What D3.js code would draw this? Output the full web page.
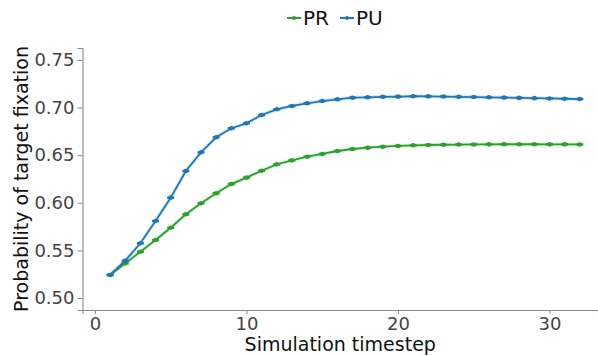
<!DOCTYPE html>
<html>
<head>
<meta charset="utf-8">
<script src="https://cdn.jsdelivr.net/npm/d3@7"></script>
<style>
  html, body { margin: 0; padding: 0; background: #fff; }
  svg { display: block; font-family: "DejaVu Sans", sans-serif; }
</style>
</head>
<body>
<svg id="chart" width="598" height="356"></svg>
<script>
// ---- data ----
const timesteps = d3.range(1, 33);
const seriesNames = ["PR", "PU"];
const prValues = [0.5242, 0.5364, 0.5486, 0.5609, 0.5738, 0.5879, 0.5995, 0.6100,
                  0.6197, 0.6264, 0.6337, 0.6404, 0.6446, 0.6484, 0.6513, 0.6544,
                  0.6565, 0.6579, 0.6589, 0.6597, 0.6604, 0.6607, 0.6610, 0.6612,
                  0.6613, 0.6614, 0.6615, 0.6615, 0.6615, 0.6614, 0.6614, 0.6613];
const puValues = [0.5242, 0.5392, 0.5575, 0.5809, 0.6054, 0.6334, 0.6530, 0.6688,
                  0.6783, 0.6835, 0.6922, 0.6982, 0.7017, 0.7045, 0.7069, 0.7087,
                  0.7104, 0.7108, 0.7113, 0.7115, 0.7119, 0.7118, 0.7116, 0.7113,
                  0.7111, 0.7108, 0.7105, 0.7102, 0.7099, 0.7096, 0.7093, 0.7090];
const xTicks = [0, 10, 20, 30];
const yTicks = [0.50, 0.55, 0.60, 0.65, 0.70, 0.75];
const colors = {PR: "#2ca02c", PU: "#1f77b4"};

const series = [
  {name: "PR", values: prValues},
  {name: "PU", values: puValues}
];

// ---- layout ----
const svg = d3.select("#chart");
const mLeft = 82.5, mRight = 598, mTop = 48, mBottom = 310;

const x = d3.scaleLinear().domain([-0.82, 33.2]).range([mLeft, mRight]);
const y = d3.scaleLinear().domain([0.4874, 0.7626]).range([mBottom, mTop]);

const axisColor = "#8a8a8a";
const tickTextColor = "#444";

// x axis
const gx = svg.append("g").attr("transform", `translate(0,${mBottom})`)
  .call(d3.axisBottom(x).tickValues(xTicks).tickFormat(d3.format("d")).tickSizeOuter(0).tickSize(4).tickPadding(3));
// y axis
const gy = svg.append("g").attr("transform", `translate(${mLeft},0)`)
  .call(d3.axisLeft(y).tickValues(yTicks).tickFormat(d3.format(".2f")).tickSizeOuter(0).tickSize(5).tickPadding(3));

[gx, gy].forEach(g => {
  g.select(".domain").attr("stroke", axisColor).attr("stroke-width", 1.1);
  g.selectAll(".tick line").attr("stroke", axisColor).attr("stroke-width", 1);
  g.selectAll(".tick text").attr("fill", tickTextColor).style("font-size", "18px")
    .style("font-family", "'DejaVu Sans', sans-serif");
});

// axis labels
svg.append("text")
  .attr("x", (mLeft + mRight) / 2).attr("y", 351)
  .attr("text-anchor", "middle")
  .style("font-size", "19px").attr("fill", "#111")
  .text("Simulation timestep");

svg.append("text")
  .attr("transform", `translate(28,${(mTop + mBottom) / 2}) rotate(-90)`)
  .attr("text-anchor", "middle")
  .style("font-size", "19px").attr("fill", "#111")
  .text("Probability of target fixation");

// lines
const line = d3.line().x((d, i) => x(timesteps[i])).y(d => y(d));

series.forEach(s => {
  const c = colors[s.name];
  svg.append("path").datum(s.values)
    .attr("fill", "none").attr("stroke", c).attr("stroke-opacity", 0.15)
    .attr("stroke-width", 4).attr("d", line);
  svg.append("path").datum(s.values)
    .attr("fill", "none").attr("stroke", c)
    .attr("stroke-width", 1.8).attr("d", line);
  const g = svg.append("g");
  g.selectAll("line.cap").data(s.values).join("line")
    .attr("x1", (d, i) => x(timesteps[i]) - 3.5)
    .attr("x2", (d, i) => x(timesteps[i]) + 3.5)
    .attr("y1", d => y(d)).attr("y2", d => y(d))
    .attr("stroke", c).attr("stroke-width", 2.5);
  g.selectAll("circle").data(s.values).join("circle")
    .attr("cx", (d, i) => x(timesteps[i])).attr("cy", d => y(d))
    .attr("r", 2.3).attr("fill", c);
});

// legend
const legendItems = [
  {name: seriesNames[0], lx: 287},
  {name: seriesNames[1], lx: 340}
];
legendItems.forEach(it => {
  const c = colors[it.name];
  const g = svg.append("g");
  g.append("line").attr("x1", it.lx).attr("x2", it.lx + 14)
    .attr("y1", 18).attr("y2", 18).attr("stroke", c).attr("stroke-width", 2);
  g.append("circle").attr("cx", it.lx + 7).attr("cy", 18).attr("r", 2).attr("fill", c);
  g.append("text").attr("x", it.lx + 16).attr("y", 25)
    .style("font-size", "20px").attr("fill", "#111").text(it.name);
});
</script>
</body>
</html>
